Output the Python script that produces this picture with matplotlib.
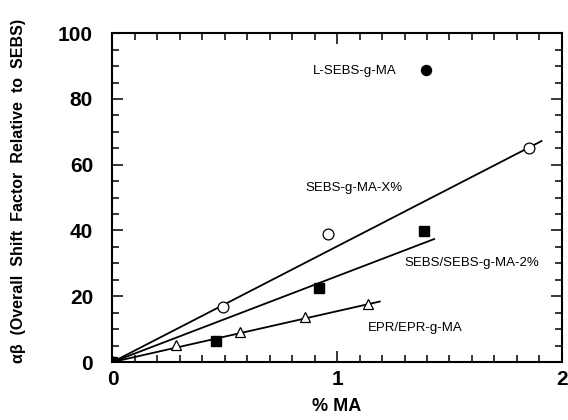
import matplotlib
matplotlib.use("Agg")
import matplotlib.pyplot as plt
from matplotlib.ticker import MultipleLocator

plt.rcParams['font.family'] = ['Liberation Sans', 'DejaVu Sans']

# SEBS-g-MA-X% (open circles)
ma_x = [0.0, 0.49, 0.958, 1.855]
shift_x = [0.0, 16.8, 38.8, 65.2]
fit_x_ma = [0.0, 1.91]
fit_x_val = [0.0, 67.2]

# SEBS/SEBS-g-MA-2% (filled squares)
ma_blend = [0.0, 0.459, 0.921, 1.388]
shift_blend = [0.0, 6.3, 22.6, 39.8]
fit_blend_ma = [0.0, 1.432]
fit_blend_val = [0.0, 37.4]

# EPR/EPR-g-MA (open triangles)
ma_epr = [0.0, 0.281, 0.569, 0.855, 1.136]
shift_epr = [0.0, 5.3, 9.0, 13.8, 17.8]
fit_epr_ma = [0.0, 1.19]
fit_epr_val = [0.0, 18.4]

# L-SEBS-g-MA (filled circle)
ma_l = [1.395]
shift_l = [88.8]

fig = plt.figure(figsize=(5.68, 4.2), dpi=100)
ax = fig.add_axes([0.198, 0.138, 0.791, 0.783])

lw = 1.3
ax.plot(fit_x_ma, fit_x_val, color='black', lw=lw, zorder=2)
ax.plot(fit_blend_ma, fit_blend_val, color='black', lw=lw, zorder=2)
ax.plot(fit_epr_ma, fit_epr_val, color='black', lw=lw, zorder=2)

ax.plot(ma_x, shift_x, 'o', ms=7.8, mfc='white', mec='black', mew=0.9, zorder=3)
ax.plot(ma_epr, shift_epr, '^', ms=7.5, mfc='white', mec='black', mew=0.9, zorder=3)
ax.plot(ma_blend, shift_blend, 's', ms=7.8, mfc='black', mec='black', zorder=4)
ax.plot(ma_l, shift_l, 'o', ms=7.2, mfc='black', mec='black', zorder=4)

fs = 9.5
ax.text(0.89, 88.6, 'L-SEBS-g-MA', fontsize=fs, va='center', ha='left')
ax.text(0.86, 52.8, 'SEBS-g-MA-X%', fontsize=fs, va='center', ha='left')
ax.text(1.30, 30.0, 'SEBS/SEBS-g-MA-2%', fontsize=fs, va='center', ha='left')
ax.text(1.136, 10.5, 'EPR/EPR-g-MA', fontsize=fs, va='center', ha='left')

ax.set_xlim(0, 2)
ax.set_ylim(0, 100)
ax.xaxis.set_major_locator(MultipleLocator(1))
ax.xaxis.set_minor_locator(MultipleLocator(0.1))
ax.yaxis.set_major_locator(MultipleLocator(20))
ax.yaxis.set_minor_locator(MultipleLocator(5))
ax.tick_params(which='both', direction='in', top=True, right=True, width=1.1)
ax.tick_params(which='major', length=8)
ax.tick_params(which='minor', length=5)
ax.tick_params(axis='y', which='major', pad=14, labelsize=15)
ax.tick_params(axis='x', which='major', pad=6, labelsize=15)
for lbl in ax.get_xticklabels() + ax.get_yticklabels():
    lbl.set_fontweight('bold')
for s in ax.spines.values():
    s.set_linewidth(1.5)

ax.set_xlabel('% MA', fontsize=13, fontweight='bold', labelpad=6)
fig.text(0.032, 0.545, 'αβ  (Overall  Shift  Factor  Relative  to  SEBS)',
         rotation=90, fontsize=11.5, fontweight='bold', ha='center', va='center')

fig.savefig('out.png', dpi=100)
